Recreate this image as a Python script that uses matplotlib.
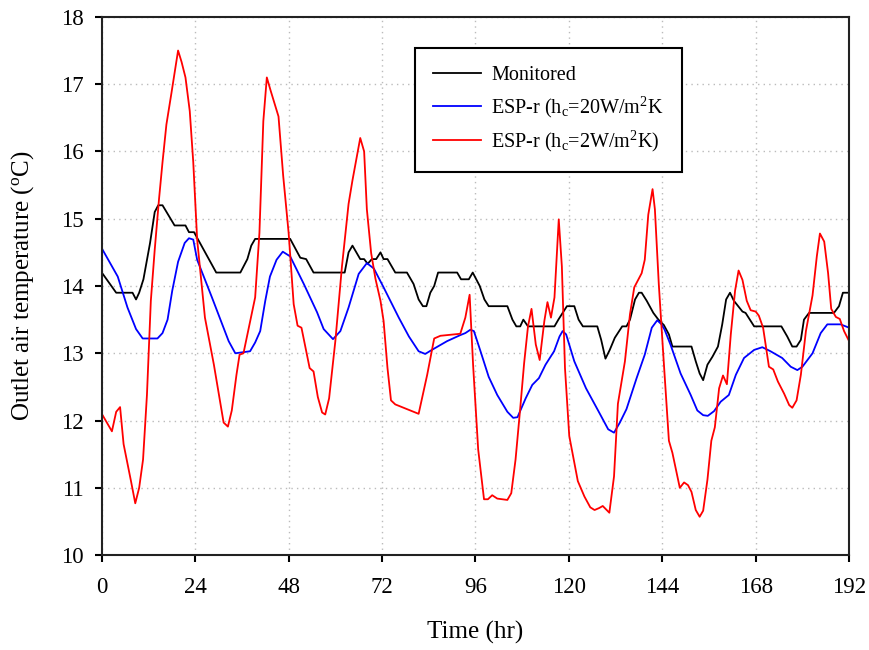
import numpy as np
import matplotlib
matplotlib.use("Agg")
import matplotlib.pyplot as plt

plt.rcParams['font.family'] = ['Liberation Serif', 'DejaVu Serif']
plt.rcParams['mathtext.fontset'] = 'custom'
plt.rcParams['mathtext.rm'] = 'Liberation Serif'
plt.rcParams['mathtext.it'] = 'Liberation Serif:italic'

# monitored outlet air temperature (breakpoints)
mon_hr = [0, 3.7, 7.9, 8.8, 9.6, 10.7, 12.4, 13.6, 14.5, 15.6, 18.7, 21.5, 22.4, 23.7,
          29.4, 35.6, 37.4, 38.4, 39.4, 48.4, 51.0, 52.5, 54.4, 62.4, 63.4, 64.4, 66.4,
          67.4, 68.3, 69.4, 70.5, 71.6, 72.4, 73.4, 75.4, 78.4, 80.1, 81.4, 82.5, 83.4,
          84.4, 85.4, 86.4, 91.3, 92.3, 94.3, 95.3, 97.1, 98.3, 99.4, 104.2, 105.5, 106.5,
          107.5, 108.3, 109.5, 116.3, 117.3, 118.4, 119.5, 121.4, 122.5, 123.6, 127.3,
          128.3, 129.4, 130.5, 131.8, 133.7, 134.8, 135.7, 137.0, 138.0, 138.7, 140.0,
          141.7, 143.0, 144.4, 145.7, 146.6, 151.5, 152.6, 153.6, 154.5, 155.6, 156.9,
          158.3, 159.4, 160.4, 161.4, 162.4, 164.6, 165.4, 167.6, 174.6, 176.1, 177.4,
          178.5, 179.6, 180.4, 181.7, 188.1, 189.4, 190.4, 192]
mon_t = [14.2, 13.9, 13.9, 13.8, 13.9, 14.1, 14.64, 15.1, 15.2, 15.2, 14.9, 14.9, 14.8, 14.8,
         14.2, 14.2, 14.4, 14.6, 14.7, 14.7, 14.42, 14.4, 14.2, 14.2, 14.5, 14.6, 14.4,
         14.4, 14.33, 14.4, 14.4, 14.5, 14.4, 14.4, 14.2, 14.2, 14.03, 13.8, 13.7, 13.7,
         13.9, 14.0, 14.2, 14.2, 14.1, 14.1, 14.2, 14.0, 13.8, 13.7, 13.7, 13.5, 13.4,
         13.4, 13.5, 13.4, 13.4, 13.5, 13.6, 13.7, 13.7, 13.5, 13.4, 13.4,
         13.2, 12.92, 13.05, 13.23, 13.4, 13.4, 13.5, 13.8, 13.9, 13.9, 13.78,
         13.6, 13.5, 13.42, 13.28, 13.1, 13.1, 12.88, 12.7, 12.6, 12.83, 12.95,
         13.1, 13.43, 13.8, 13.9, 13.78, 13.62, 13.6, 13.4, 13.4, 13.25, 13.1,
         13.1, 13.2, 13.5, 13.6, 13.6, 13.7, 13.9, 13.9]

# ESP-r, hc = 20 W/m2K
esp20_hr = [0, 4.1, 6.6, 8.8, 10.5, 14.3, 15.6, 16.9, 18.1, 19.6, 21.3, 22.4, 23.5, 24.5,
            28.3, 32.6, 34.3, 38.1, 39.4, 40.7, 42.0, 43.2, 44.9, 46.5, 48.4, 51.9, 55.3,
            57.0, 59.4, 61.3, 63.4, 66.0, 68.1, 69.9, 72.4, 76.3, 78.9, 81.4, 83.1, 84.8,
            88.7, 92.1, 93.4, 94.7, 95.6, 97.3, 99.4, 101.6, 104.2, 105.7, 106.8, 108.9,
            110.6, 112.3, 114.0, 116.2, 117.6, 118.4, 119.3, 121.4, 124.4, 127.5, 130.1,
            131.6, 133.1, 134.8, 137.4, 139.5, 141.3, 142.7, 143.8, 144.6, 146.1, 148.7,
            151.3, 153.0, 154.5, 155.7, 157.3, 159.0, 161.1, 162.9, 165.0, 167.6, 169.7,
            171.8, 174.8, 177.0, 178.7, 180.0, 182.6, 184.7, 186.4, 189.8, 192]
esp20_t = [14.56, 14.14, 13.68, 13.36, 13.22, 13.22, 13.3, 13.5, 13.93, 14.36, 14.64, 14.71,
           14.69, 14.39, 13.83, 13.18, 13.0, 13.03, 13.16, 13.33, 13.78, 14.14, 14.39, 14.51,
           14.44, 14.03, 13.61, 13.36, 13.21, 13.33, 13.68, 14.18, 14.34, 14.26, 13.98,
           13.53, 13.25, 13.03, 12.99, 13.05, 13.18, 13.27, 13.3, 13.35, 13.33, 13.03,
           12.65, 12.38, 12.13, 12.04, 12.05, 12.33, 12.53, 12.63, 12.83, 13.03, 13.25,
           13.33, 13.28, 12.88, 12.48, 12.15, 11.87, 11.82, 11.97, 12.17, 12.63, 12.98,
           13.38, 13.49, 13.43, 13.35, 13.13, 12.7, 12.38, 12.15, 12.08, 12.07, 12.14,
           12.28, 12.38, 12.68, 12.93, 13.05, 13.09, 13.03, 12.93, 12.8, 12.75, 12.8,
           13.0, 13.3, 13.43, 13.43, 13.38]

# ESP-r, hc = 2 W/m2K
esp2_hr = [0, 2.6, 3.7, 4.7, 5.6, 7.5, 8.6, 9.6, 10.6, 11.6, 12.6, 13.6, 14.7, 15.6, 16.6,
           17.9, 19.6, 20.5, 21.5, 22.6, 23.5, 24.5, 26.5, 28.8, 31.3, 32.4, 33.4, 34.6,
           35.4, 36.4, 39.4, 40.5, 41.5, 42.4, 43.4, 45.4, 46.6, 48.0, 49.3, 50.3, 51.3,
           53.4, 54.4, 55.5, 56.6, 57.4, 58.4, 60.0, 61.7, 63.4, 64.4, 66.4, 67.4, 68.1,
           69.2, 70.3, 71.6, 72.4, 73.4, 74.3, 75.4, 79.3, 81.4, 83.6, 85.4, 87.0, 88.7,
           92.1, 93.4, 94.5, 95.4, 96.7, 98.2, 99.2, 100.3, 101.6, 104.2, 105.2, 106.3,
           107.5, 108.5, 109.5, 110.4, 111.5, 112.5, 113.7, 114.5, 115.4, 116.3, 117.4,
           118.2, 119.0, 120.1, 122.3, 124.0, 125.5, 126.6, 127.8, 128.7, 130.4, 131.6,
           132.6, 134.4, 135.7, 136.8, 138.7, 139.5, 140.4, 141.5, 142.1, 143.1, 144.2,
           145.7, 146.6, 148.5, 149.6, 150.6, 151.5, 152.6, 153.6, 154.5, 155.6, 156.6,
           157.5, 158.6, 159.6, 160.6, 161.6, 162.7, 163.6, 164.6, 165.7, 166.7, 168.0,
           168.8, 169.9, 171.4, 172.5, 173.7, 175.3, 176.6, 177.4, 178.5, 179.6, 180.9,
           182.6, 183.7, 184.5, 185.6, 186.6, 187.4, 188.6, 189.6, 190.7, 192]
esp2_t = [12.1, 11.84, 12.13, 12.2, 11.65, 11.1, 10.77, 11.0, 11.42, 12.38, 13.78, 14.54,
          15.29, 15.84, 16.4, 16.87, 17.5, 17.33, 17.1, 16.6, 15.84, 14.69, 13.53, 12.83,
          11.97, 11.91, 12.15, 12.68, 12.98, 13.0, 13.83, 14.79, 16.45, 17.1, 16.9, 16.52,
          15.64, 14.79, 13.73, 13.41, 13.38, 12.78, 12.73, 12.35, 12.12, 12.09, 12.33,
          13.18, 14.29, 15.22, 15.57, 16.2, 16.0, 15.14, 14.49, 14.11, 13.78, 13.48, 12.78,
          12.3, 12.24, 12.15, 12.1, 12.68, 13.22, 13.26, 13.27, 13.29, 13.53, 13.87,
          12.82, 11.57, 10.83, 10.83, 10.89, 10.84, 10.82, 10.92, 11.42, 12.18, 12.85,
          13.4, 13.66, 13.13, 12.9, 13.48, 13.76, 13.53, 13.83, 14.99, 14.29, 12.78,
          11.77, 11.1, 10.87, 10.71, 10.67, 10.7, 10.73, 10.63, 11.17, 12.25, 12.88,
          13.58, 13.98, 14.19, 14.39, 15.06, 15.44, 15.14, 14.03, 13.03, 11.7, 11.52,
          11.0, 11.08, 11.04, 10.94, 10.67, 10.57, 10.66, 11.12, 11.7, 11.9, 12.48, 12.67,
          12.54, 13.28, 13.93, 14.23, 14.09, 13.78, 13.64, 13.62, 13.56, 13.38, 12.8,
          12.76, 12.58, 12.4, 12.23, 12.19, 12.3, 12.68, 13.33, 13.86, 14.44, 14.78,
          14.66, 14.19, 13.66, 13.54, 13.51, 13.33, 13.18]

x_ticks = np.arange(0, 193, 24)
y_ticks = np.arange(10, 19, 1)

fig = plt.figure(figsize=(8.7, 6.5), dpi=100)
ax = fig.add_axes([0.117, 0.146, 0.859, 0.828])

ax.plot(mon_hr, mon_t, color='black', lw=1.3, label='Monitored')
ax.plot(esp20_hr, esp20_t, color='#0000ff', lw=1.3, label='ESP-r (h$_\\mathrm{c}$=20W/m$^\\mathrm{2}$K')
ax.plot(esp2_hr, esp2_t, color='#ff0000', lw=1.3, label='ESP-r (h$_\\mathrm{c}$=2W/m$^\\mathrm{2}$K)')

ax.set_xlim(0, 192)
ax.set_ylim(10, 18)
ax.set_xticks(x_ticks)
ax.set_yticks(y_ticks)
ax.grid(True, color='#bbbbbb', linestyle=(0, (1, 3)), lw=1)
ax.tick_params(direction='out', length=5, width=1.5, labelsize=16.5, colors='black')
ax.tick_params(axis='x', pad=11)
ax.tick_params(axis='y', pad=8)
for s in ax.spines.values():
    s.set_linewidth(1.5)
    s.set_color('#222222')

ax.set_xlabel('Time (hr)', fontsize=18)
ax.set_ylabel('Outlet air temperature ($^\\mathrm{o}$C)', fontsize=18)
ax.xaxis.set_label_coords(0.5, -0.122)
ax.yaxis.set_label_coords(-0.088, 0.5)

leg = ax.legend(loc='upper left', bbox_to_anchor=(0.419, 0.942), fontsize=14.5,
                frameon=True, fancybox=False, edgecolor='black', framealpha=1,
                handlelength=2.4, labelspacing=0.45, borderpad=0.9, handletextpad=0.5,
                borderaxespad=0)
leg.get_frame().set_linewidth(1.5)

fig.savefig('out.png', dpi=100)
